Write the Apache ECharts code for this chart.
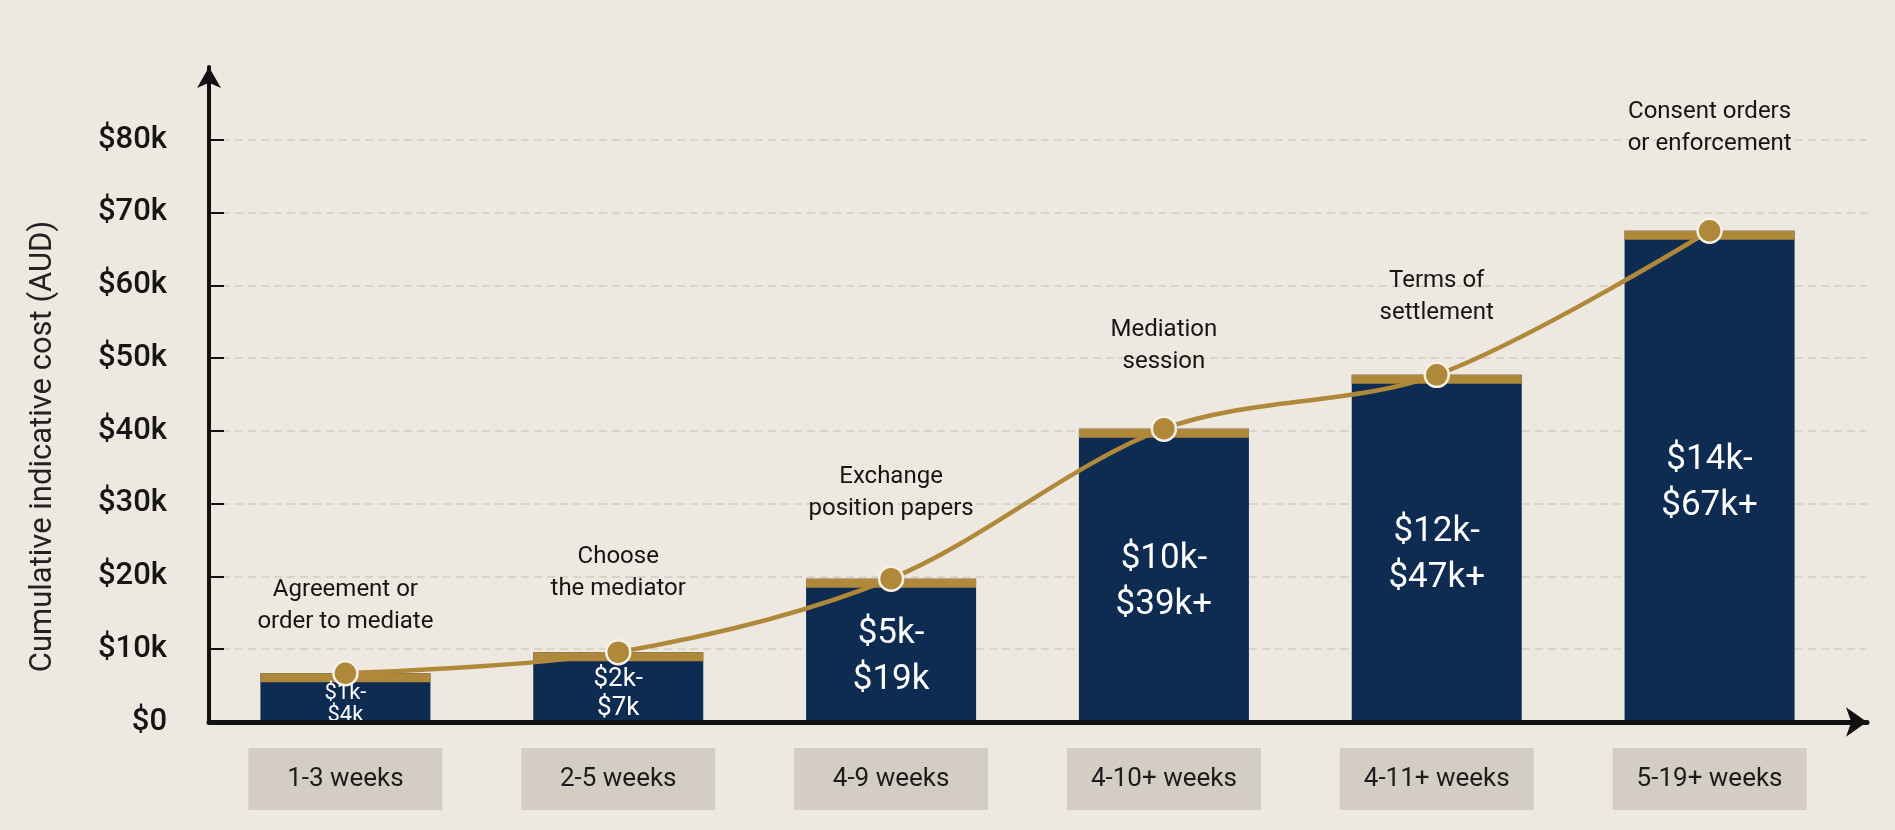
<!DOCTYPE html>
<html>
<head>
<meta charset="utf-8">
<title>Mediation cost timeline</title>
<script src="https://cdn.jsdelivr.net/npm/echarts@6.0.0/dist/echarts.min.js"></script>
<style>
    html, body {margin: 0; padding: 0; background: #ede8e0;}
    #chart {width: 1895px; height: 830px;}
</style>
</head>
<body>
<div id="chart"></div>
<script>
// data
var stages = ['Agreement or\norder to mediate', 'Choose\nthe mediator', 'Exchange\nposition papers',
    'Mediation\nsession', 'Terms of\nsettlement', 'Consent orders\nor enforcement'];
var durations = ['1-3 weeks', '2-5 weeks', '4-9 weeks', '4-10+ weeks', '4-11+ weeks', '5-19+ weeks'];
var costRanges = ['$1k-\n$4k', '$2k-\n$7k', '$5k-\n$19k', '$10k-\n$39k+', '$12k-\n$47k+', '$14k-\n$67k+'];
var cumulative = [6700, 9600, 19700, 40300, 47700, 67500];
var yTicks = [0, 10000, 20000, 30000, 40000, 50000, 60000, 70000, 80000];
var xTicks = [0, 1, 2, 3, 4, 5];

// styling per bar (not data)
var rangeFont = [22, 26, 35, 35, 35, 35];
var rangeLine = [22, 29, 46, 46, 46, 46];
var stageGap = [22, 34, 40, 37, 33, 58];

var navy = '#0e2b52';
var gold = '#b0883a';
var font = 'Roboto';

function drawChart() {
    var chart = echarts.init(document.getElementById('chart'));

    var lineData = cumulative.map(function (v, i) {
        return {value: [i, v], label: {distance: stageGap[i]}};
    });
    var barData = cumulative.map(function (v, i) {
        return [i, v];
    });

    var option = {
        backgroundColor: '#ede8e0',
        animation: false,
        grid: {left: 209, right: 28, top: 67, bottom: 108},
        xAxis: {
            type: 'value',
            min: -0.5,
            max: 5.577,
            z: 5,
            splitLine: {show: false},
            axisTick: {show: false},
            axisLine: {
                show: true,
                onZero: false,
                lineStyle: {color: '#111', width: 5},
                symbol: ['none', 'arrow'],
                symbolSize: [22, 21]
            },
            axisLabel: {
                customValues: xTicks,
                margin: 26,
                formatter: function (v) {
                    return '{box|' + durations[v] + '}';
                },
                rich: {
                    box: {
                        width: 194,
                        height: 62,
                        lineHeight: 62,
                        align: 'center',
                        verticalAlign: 'middle',
                        backgroundColor: '#d4cdc3',
                        color: '#1c1c1c',
                        fontSize: 26,
                        fontFamily: font
                    }
                }
            }
        },
        yAxis: {
            type: 'value',
            min: 0,
            max: 90000,
            interval: 10000,
            z: 0,
            name: 'Cumulative indicative cost (AUD)',
            nameLocation: 'middle',
            nameGap: 150,
            nameTextStyle: {fontSize: 31, color: '#222', fontFamily: font, padding: [0, 104, 0, 0]},
            axisLine: {
                show: true,
                onZero: false,
                lineStyle: {color: '#111', width: 4},
                symbol: ['none', 'arrow'],
                symbolSize: [18, 21]
            },
            axisTick: {
                show: true,
                inside: true,
                length: 15,
                customValues: yTicks,
                lineStyle: {color: '#111', width: 2}
            },
            axisLabel: {
                customValues: yTicks,
                margin: 42,
                fontSize: 31,
                fontWeight: 500,
                color: '#151515',
                fontFamily: font,
                formatter: function (v) {
                    return v === 0 ? '$0' : '$' + (v / 1000) + 'k';
                }
            },
            splitLine: {
                show: true,
                showMinLine: false,
                lineStyle: {type: [8, 5], color: '#d3ccc1', width: 1.5}
            }
        },
        series: [
            {
                name: 'cost',
                type: 'custom',
                z: 2,
                data: barData,
                renderItem: function (params, api) {
                    var i = params.dataIndex;
                    var top = api.coord([api.value(0), api.value(1)]);
                    var base = api.coord([api.value(0), 0]);
                    var w = 170, cap = 9;
                    return {
                        type: 'group',
                        children: [
                            {type: 'rect', shape: {x: top[0] - w / 2, y: top[1], width: w, height: base[1] - top[1]},
                                style: {fill: navy}},
                            {type: 'rect', shape: {x: top[0] - w / 2, y: top[1], width: w, height: cap},
                                style: {fill: gold}},
                            {type: 'text', x: top[0], y: (top[1] + cap + base[1]) / 2 + 2,
                                style: {
                                    text: costRanges[i], fill: '#fff', fontSize: rangeFont[i],
                                    fontFamily: font, lineHeight: rangeLine[i],
                                    align: 'center', verticalAlign: 'middle'
                                }}
                        ]
                    };
                }
            },
            {
                name: 'stage',
                type: 'line',
                z: 4,
                smooth: 0.32,
                data: lineData,
                symbol: 'circle',
                symbolSize: 24,
                lineStyle: {color: gold, width: 4.5},
                itemStyle: {color: gold, borderColor: '#f6f1e8', borderWidth: 2.5},
                label: {
                    show: true,
                    position: 'top',
                    fontSize: 24,
                    lineHeight: 32,
                    color: '#151515',
                    fontFamily: font,
                    align: 'center',
                    formatter: function (p) {
                        return stages[p.dataIndex];
                    }
                }
            }
        ]
    };
    chart.setOption(option);
}

drawChart();
</script>
</body>
</html>
